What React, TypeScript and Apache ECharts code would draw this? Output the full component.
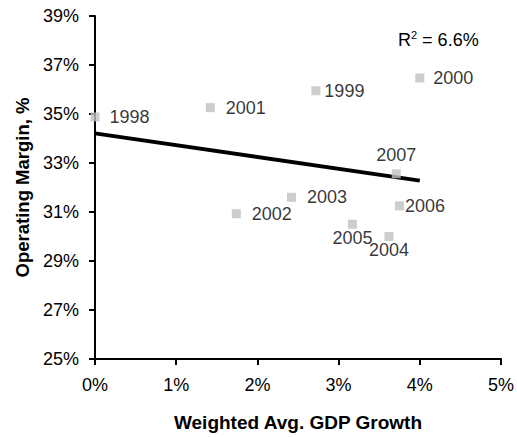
import React, { useEffect, useRef } from "react";
import * as echarts from "echarts";

// Each year's weighted average GDP growth (%) and operating margin (%)
const years = ["1998", "1999", "2000", "2001", "2002", "2003", "2004", "2005", "2006", "2007"];
const gdpGrowth = [0.0, 2.72, 4.0, 1.42, 1.74, 2.42, 3.62, 3.17, 3.75, 3.71];
const opMargin = [34.88, 35.95, 36.47, 35.26, 30.93, 31.6, 30.0, 30.5, 31.25, 32.56];

// Linear trend line end points
const trendX = [0.0, 4.0];
const trendY = [34.21, 32.28];

const yTicks = [25, 27, 29, 31, 33, 35, 37, 39];
const xTicks = [0, 1, 2, 3, 4, 5];
const rSquared = "6.6%";

const FONT = 'Arial, "Liberation Sans", sans-serif';

// Where each year label sits relative to its marker
const labelPlacement: Record<string, { position: string; distance: number; offset?: number[] }> = {
  "1998": { position: "right", distance: 10 },
  "1999": { position: "right", distance: 4, offset: [0, -1] },
  "2000": { position: "right", distance: 9, offset: [0, 1] },
  "2001": { position: "right", distance: 11 },
  "2002": { position: "right", distance: 11, offset: [0, -1] },
  "2003": { position: "right", distance: 11 },
  "2004": { position: "bottom", distance: 0, offset: [9, -2] },
  "2005": { position: "bottom", distance: 0, offset: [1, 0] },
  "2006": { position: "right", distance: 1, offset: [0, 1] },
  "2007": { position: "top", distance: 5, offset: [-5, 0] },
};

export default function App() {
  const ref = useRef<HTMLDivElement>(null);

  useEffect(() => {
    if (!ref.current) return;
    const chart = echarts.init(ref.current, null, { renderer: "svg" });

    const points = years.map((yr, i) => {
      const p = labelPlacement[yr];
      return {
        value: [gdpGrowth[i], opMargin[i]],
        name: yr,
        label: {
          show: true,
          formatter: yr,
          position: p.position,
          distance: p.distance,
          offset: p.offset || [0, 0],
          color: "#000",
          fontSize: 18,
          fontFamily: FONT,
        },
      };
    });

    const axisCommon = {
      axisLine: { show: true, lineStyle: { color: "#000", width: 2 } },
      axisTick: { show: true, inside: false, length: 6, lineStyle: { color: "#000", width: 2 } },
      splitLine: { show: false },
    };

    chart.setOption({
      animation: false,
      backgroundColor: "#fff",
      grid: { left: 95, right: 15, top: 16, bottom: 73, containLabel: false },
      xAxis: {
        type: "value",
        min: 0,
        max: 5,
        interval: 1,
        name: "Weighted Avg. GDP Growth",
        nameLocation: "middle",
        nameGap: 54,
        nameTextStyle: { color: "#000", fontSize: 19, fontWeight: "bold", fontFamily: FONT },
        ...axisCommon,
        axisTick: { ...axisCommon.axisTick, customValues: xTicks },
        axisLabel: {
          customValues: xTicks,
          formatter: (v: number) => `${v}%`,
          color: "#000",
          fontSize: 18,
          fontFamily: FONT,
          margin: 17,
        },
      },
      yAxis: {
        type: "value",
        min: 25,
        max: 39,
        name: "Operating Margin, %",
        nameLocation: "middle",
        nameGap: 63,
        nameTextStyle: { color: "#000", fontSize: 18.5, fontWeight: "bold", fontFamily: FONT },
        ...axisCommon,
        axisTick: { ...axisCommon.axisTick, customValues: yTicks },
        axisLabel: {
          customValues: yTicks,
          formatter: (v: number) => `${v}%`,
          color: "#000",
          fontSize: 18,
          fontFamily: FONT,
          margin: 16,
        },
      },
      series: [
        {
          type: "line",
          data: trendX.map((x, i) => [x, trendY[i]]),
          symbol: "none",
          lineStyle: { color: "#000", width: 4 },
          z: 3,
          silent: true,
        },
        {
          type: "scatter",
          data: points,
          symbol: "rect",
          symbolSize: 9,
          itemStyle: { color: "#C0C0C0" },
          labelLayout: { hideOverlap: false },
          z: 4,
        },
      ],
      graphic: [
        {
          type: "text",
          left: 398,
          top: 29,
          style: {
            text: "{a|R}{b|2}{a| = " + rSquared + "}",
            rich: {
              a: { fontSize: 18, fontFamily: FONT, fill: "#000", lineHeight: 22 },
              b: { fontSize: 11, fontFamily: FONT, fill: "#000", verticalAlign: "top", lineHeight: 11 },
            },
          },
        },
      ],
    });

    return () => chart.dispose();
  }, []);

  return (
    <div
      ref={ref}
      style={{ position: "fixed", left: 0, top: 0, width: 517, height: 437, background: "#fff" }}
    />
  );
}
